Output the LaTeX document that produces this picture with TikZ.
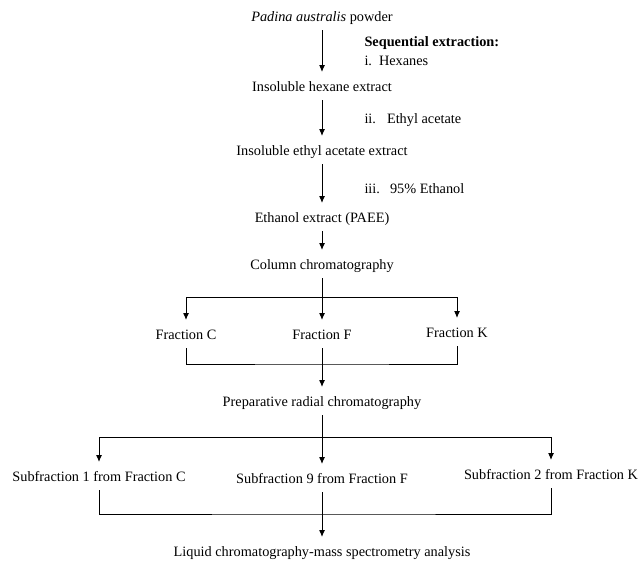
\documentclass[tikz,border=0pt]{standalone}
\usepackage{fontspec}
\setmainfont{Liberation Serif}
\usetikzlibrary{arrows.meta}
\tikzstyle{stage}=[font=\fontsize{14.3}{17}\selectfont,text height=10pt,text depth=3pt,inner xsep=2pt,inner ysep=5pt]
\tikzstyle{solvent}=[stage,anchor=west,inner xsep=0pt]
\tikzstyle{flow}=[-{Latex[length=7pt,width=6pt]},shorten >=4pt]

\begin{document}
\begin{tikzpicture}[x=1pt,y=-1pt,line width=1pt]
  \useasboundingbox (0,0) rectangle (639,562);
  \node[stage] (padina) at (322,18)  {\textit{Padina australis} powder};
  \node[stage] (hexane) at (322,88)  {Insoluble hexane extract};
  \node[stage] (ethac)  at (322,152) {Insoluble ethyl acetate extract};
  \node[stage] (paee)   at (322,219) {Ethanol extract (PAEE)};
  \node[stage] (column) at (322,266) {Column chromatography};
  \node[stage] (fracC)  at (186,336) {Fraction C};
  \node[stage] (fracF)  at (322,336) {Fraction F};
  \node[stage] (fracK)  at (457,334) {Fraction K};
  \node[stage] (prep)   at (322,403) {Preparative radial chromatography};
  \node[stage] (sub1)   at (99,478)  {Subfraction 1 from Fraction C};
  \node[stage] (sub9)   at (322,480) {Subfraction 9 from Fraction F};
  \node[stage] (sub2)   at (551,476) {Subfraction 2 from Fraction K};
  \node[stage] (lcms)   at (322,553) {Liquid chromatography-mass spectrometry analysis};
  \node[solvent] (seq)   at (364,43)  {\textbf{Sequential extraction:}};
  \node[solvent] (solv1) at (364,62)  {i.\hspace{7pt}Hexanes};
  \node[solvent] (solv2) at (364,120) {ii.\hspace{11pt}Ethyl acetate};
  \node[solvent] (solv3) at (364,190) {iii.\hspace{10pt}95\% Ethanol};
  \coordinate (splitA) at (322,297);
  \coordinate (joinA)  at (322,364);
  \coordinate (splitB) at (322,437);
  \coordinate (joinB)  at (322,514);
  \draw[flow] (padina) -- (hexane);
  \draw[flow] (hexane) -- (ethac);
  \draw[flow] (ethac) -- (paee);
  \draw[flow] (paee) -- (column);
  \draw (column) -- (splitA);
  \draw (fracC |- splitA) -- (fracK |- splitA);
  \draw[flow] (fracC |- splitA) -- (fracC);
  \draw[flow] (splitA) -- (fracF);
  \draw[flow] (fracK |- splitA) -- (fracK);
  \draw (fracC.south) |- (joinA) -| (fracK.south);
  \draw[flow] (fracF) -- (prep);
  \draw (prep) -- (splitB);
  \draw (sub1 |- splitB) -- (sub2 |- splitB);
  \draw[flow] (sub1 |- splitB) -- (sub1);
  \draw[flow] (splitB) -- (sub9);
  \draw[flow] (sub2 |- splitB) -- (sub2);
  \draw (sub1.south) |- (joinB) -| (sub2.south);
  \draw[flow] (sub9) -- (lcms);
\end{tikzpicture}
\end{document}
